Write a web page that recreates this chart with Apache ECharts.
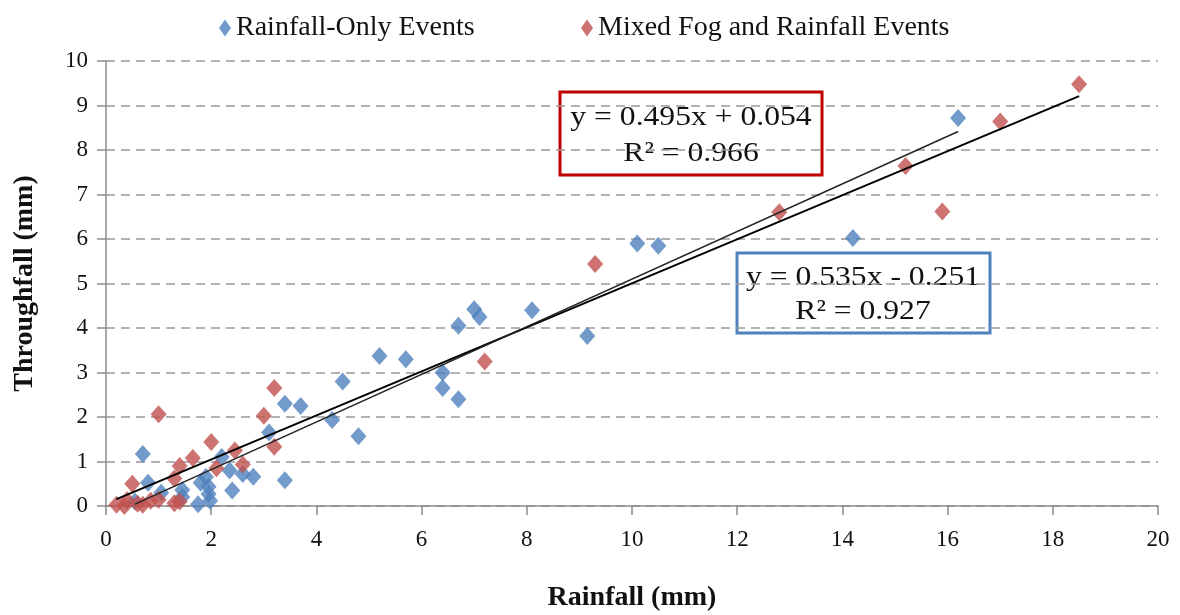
<!DOCTYPE html>
<html><head><meta charset="utf-8">
<script src="https://cdn.jsdelivr.net/npm/echarts@6/dist/echarts.min.js"></script>
<style>html,body{margin:0;padding:0;background:#fff}#c{width:1180px;height:615px}</style>
</head><body><div id="c"></div>
<script>
const seriesNames = ['Rainfall-Only Events', 'Mixed Fog and Rainfall Events'];
const rainfallOnly = [
  [16.2, 8.72], [14.2, 6.02], [10.1, 5.9], [10.5, 5.85], [9.15, 3.82], [8.1, 4.4],
  [7.0, 4.42], [7.1, 4.25], [6.7, 4.05], [6.4, 3.0], [6.4, 2.65], [6.7, 2.4],
  [5.7, 3.3], [5.2, 3.37], [4.5, 2.8], [4.3, 1.93], [4.8, 1.57], [3.7, 2.25],
  [3.4, 2.3], [3.1, 1.65], [3.4, 0.58], [2.8, 0.66], [2.6, 0.72], [2.4, 0.35],
  [2.35, 0.8], [2.2, 1.1], [1.95, 0.27], [1.9, 0.65], [1.8, 0.52], [1.95, 0.43],
  [1.75, 0.04], [1.98, 0.12], [1.45, 0.36], [1.45, 0.2], [0.7, 1.17], [0.8, 0.52],
  [0.55, 0.1], [1.05, 0.3]
];
const mixedFog = [
  [18.5, 9.48], [17.0, 8.64], [15.2, 7.64], [15.9, 6.62], [12.8, 6.6], [9.3, 5.44],
  [7.2, 3.25], [3.2, 2.65], [3.0, 2.03], [3.2, 1.33], [1.0, 2.06], [2.0, 1.44],
  [1.65, 1.08], [2.45, 1.25], [2.6, 0.93], [2.1, 0.85], [1.4, 0.9], [1.3, 0.62],
  [0.5, 0.5], [0.4, 0.13], [0.2, 0.03], [0.35, 0.0], [0.7, 0.03], [0.85, 0.12],
  [1.0, 0.14], [1.3, 0.06], [1.4, 0.1], [0.6, 0.05]
];
// trend coefficients [slope, intercept]
const trendMixed = [0.495, 0.054];
const trendRain = [0.535, -0.251];
const eqMixed = ['y = 0.495x + 0.054', 'R² = 0.966'];
const eqRain = ['y = 0.535x - 0.251', 'R² = 0.927'];
const xTickLabels = ['0','2','4','6','8','10','12','14','16','18','20'];
const yTickLabels = ['0','1','2','3','4','5','6','7','8','9','10'];

function trend(data, coef) {
  const xs = data.map(d => d[0]);
  const lo = Math.min(...xs), hi = Math.max(...xs);
  return [[lo, coef[0]*lo + coef[1]], [hi, coef[0]*hi + coef[1]]];
}
const FONT = '"Liberation Serif", "Times New Roman", serif';
function eqText(str, cx, cy) {
  return {type: 'text', x: cx, y: cy, scaleX: 1.13, originX: 0, originY: 0,
    style: {text: str, font: '28px ' + FONT, fill: '#111', textAlign: 'center', textVerticalAlign: 'middle'}};
}
const chart = echarts.init(document.getElementById('c'), null, {renderer: 'canvas'});
chart.setOption({
  animation: false,
  backgroundColor: '#fff',
  textStyle: {fontFamily: FONT},
  grid: {left: 106, right: 22, top: 61, bottom: 109, containLabel: false, outerBoundsMode: 'none'},
  legend: [
    {data: [{name: seriesNames[0], icon: 'diamond'}], left: 214, top: 9, itemWidth: 12, itemHeight: 17, itemGap: 4,
     textStyle: {fontFamily: FONT, fontSize: 28, color: '#111'}},
    {data: [{name: seriesNames[1], icon: 'diamond'}], left: 576, top: 9, itemWidth: 12, itemHeight: 17, itemGap: 4,
     textStyle: {fontFamily: FONT, fontSize: 28, color: '#111'}}
  ],
  xAxis: {
    type: 'value', min: 0, max: 20, interval: 2,
    name: 'Rainfall (mm)', nameLocation: 'middle', nameGap: 78,
    nameTextStyle: {fontFamily: FONT, fontSize: 28, fontWeight: 'bold', color: '#111'},
    axisLine: {show: true, lineStyle: {color: '#8c8c8c', width: 1.5}},
    axisTick: {show: true, length: 9, lineStyle: {color: '#8c8c8c', width: 1.5}},
    axisLabel: {fontFamily: FONT, fontSize: 23, color: '#111', margin: 22,
      formatter: v => xTickLabels[Math.round(v/2)]},
    splitLine: {show: false}
  },
  yAxis: {
    type: 'value', min: 0, max: 10, interval: 1,
    name: 'Throughfall (mm)', nameLocation: 'middle', nameGap: 67, nameRotate: 90,
    nameTextStyle: {fontFamily: FONT, fontSize: 28, fontWeight: 'bold', color: '#111'},
    axisLine: {show: true, lineStyle: {color: '#8c8c8c', width: 1.5}},
    axisTick: {show: true, length: 9, lineStyle: {color: '#8c8c8c', width: 1.5}},
    axisLabel: {fontFamily: FONT, fontSize: 23, color: '#111', margin: 18,
      formatter: v => yTickLabels[Math.round(v)]},
    splitLine: {show: true, lineStyle: {color: '#999', type: [9, 6], width: 1.5}}
  },
  series: [
    {name: seriesNames[0], type: 'scatter', data: rainfallOnly, symbol: 'diamond', symbolSize: [16, 18],
     itemStyle: {color: '#4F81BD'}, z: 3},
    {name: seriesNames[1], type: 'scatter', data: mixedFog, symbol: 'diamond', symbolSize: [16, 18],
     itemStyle: {color: '#C0504D'}, z: 3},
    {name: 'trendMixed', type: 'line', data: trend(mixedFog, trendMixed), symbol: 'none',
     lineStyle: {color: '#000', width: 2}, z: 4, silent: true},
    {name: 'trendRain', type: 'line', data: trend(rainfallOnly, trendRain), symbol: 'none',
     lineStyle: {color: '#222', width: 1.4}, z: 4, silent: true}
  ],
  graphic: [
    {type: 'group', x: 560, y: 92, children: [
      {type: 'rect', shape: {x: 0, y: 0, width: 262, height: 83}, style: {fill: '#fff', stroke: '#C00000', lineWidth: 3}},
      eqText(eqMixed[0], 131, 26),
      eqText(eqMixed[1], 131, 62)
    ]},
    {type: 'group', x: 737, y: 253, children: [
      {type: 'rect', shape: {x: 0, y: 0, width: 253, height: 80}, style: {fill: '#fff', stroke: '#4F81BD', lineWidth: 3}},
      eqText(eqRain[0], 126, 25),
      eqText(eqRain[1], 126, 59)
    ]}
  ]
});
</script></body></html>
